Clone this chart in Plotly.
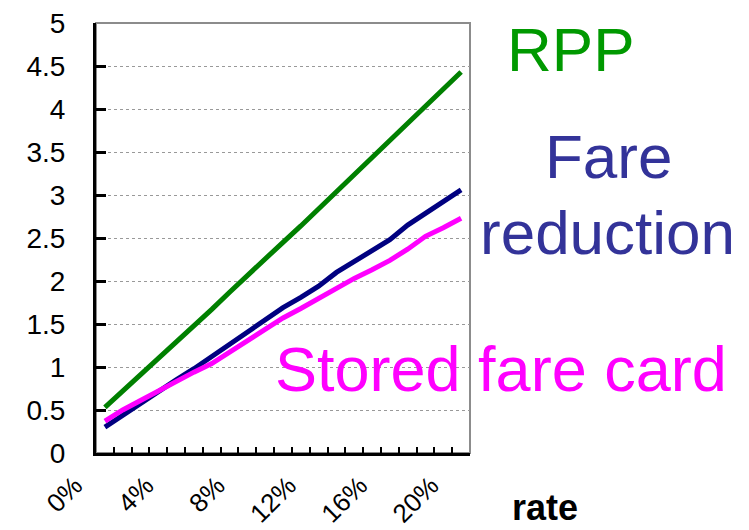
import plotly.graph_objects as go

# ---- data ----
rates = list(range(0, 21))  # 0% .. 20%
rpp = [0.53, 0.72, 0.91, 1.10, 1.29, 1.47, 1.67, 1.87, 2.07, 2.27, 2.45,
       2.64, 2.84, 3.04, 3.24, 3.43, 3.63, 3.83, 4.03, 4.23, 4.43]
fare_reduction = [0.30, 0.44, 0.57, 0.71, 0.85, 0.98, 1.12, 1.26, 1.40, 1.55, 1.69,
                  1.81, 1.94, 2.10, 2.23, 2.36, 2.48, 2.65, 2.79, 2.92, 3.06]
stored_fare_card = [0.37, 0.50, 0.61, 0.72, 0.84, 0.94, 1.04, 1.17, 1.31, 1.44, 1.57,
                    1.68, 1.80, 1.91, 2.03, 2.13, 2.24, 2.37, 2.52, 2.62, 2.73]
x_tick_vals = [0, 4, 8, 12, 16, 20]
x_tick_text = ["0%", "4%", "8%", "12%", "16%", "20%"]
y_tick_vals = [0, 0.5, 1, 1.5, 2, 2.5, 3, 3.5, 4, 4.5, 5]
y_tick_text = ["0", "0.5", "1", "1.5", "2", "2.5", "3", "3.5", "4", "4.5", "5"]
x_boundaries = [k + 0.5 for k in range(0, 20)]

W, H = 749, 530
L, R, T, B = 96, 470, 23, 453
FONT = "Liberation Sans, Arial, sans-serif"


def px(x):
    return (x - L) / (R - L)


def py(y):
    return (B - y) / (B - T)


fig = go.Figure()
fig.add_trace(go.Scatter(x=rates, y=rpp, mode="lines", name="RPP",
                         line=dict(color="#008000", width=5)))
fig.add_trace(go.Scatter(x=rates, y=fare_reduction, mode="lines", name="Fare reduction",
                         line=dict(color="#000080", width=5)))
fig.add_trace(go.Scatter(x=rates, y=stored_fare_card, mode="lines", name="Stored fare card",
                         line=dict(color="#FF00FF", width=5)))

fig.update_layout(
    width=W, height=H,
    margin=dict(l=L, r=W - R, t=T, b=H - B, pad=0, autoexpand=False),
    paper_bgcolor="white", plot_bgcolor="white",
    showlegend=False,
    font=dict(family=FONT, color="black"),
    xaxis=dict(
        range=[-0.5, 20.5], tickmode="array", tickvals=x_tick_vals, ticktext=x_tick_text,
        tickangle=-45, ticks="", showgrid=False, zeroline=False, automargin=False,
        showline=True, linecolor="black", linewidth=3,
        tickfont=dict(size=26, family=FONT), ticklabelstandoff=4, ticklabelshift=-30,
        minor=dict(tickmode="array", tickvals=x_boundaries, ticks="inside", ticklen=6,
                   tickwidth=2, tickcolor="black", showgrid=False),
    ),
    yaxis=dict(
        range=[0, 5], tickmode="array", tickvals=y_tick_vals, ticktext=y_tick_text,
        ticks="inside", ticklen=10, tickwidth=3, tickcolor="black", automargin=False,
        showgrid=True, gridcolor="#999999", griddash="dot", gridwidth=1,
        zeroline=False, showline=True, linecolor="black", linewidth=3,
        tickfont=dict(size=28, family=FONT), ticklabelstandoff=22,
    ),
    shapes=[dict(type="rect", xref="paper", yref="paper", x0=0, x1=1, y0=0, y1=1,
                 line=dict(color="#8c8c8c", width=2), layer="below")],
)

annots = [
    ("RPP", 570, 50, "#009900", 62, "middle"),
    ("Fare", 608, 157, "#333399", 62, "middle"),
    ("reduction", 607, 232, "#333399", 62, "middle"),
    ("Stored fare card", 501, 369, "#FF00FF", 63, "middle"),
    ("<b>rate</b>", 545, 530, "black", 36, "bottom"),
]
for text, x, y, color, size, yanc in annots:
    fig.add_annotation(text=text, xref="paper", yref="paper", x=px(x), y=py(y),
                       xanchor="center", yanchor=yanc, showarrow=False,
                       font=dict(family=FONT, size=size, color=color))

fig.write_html("out.html")
